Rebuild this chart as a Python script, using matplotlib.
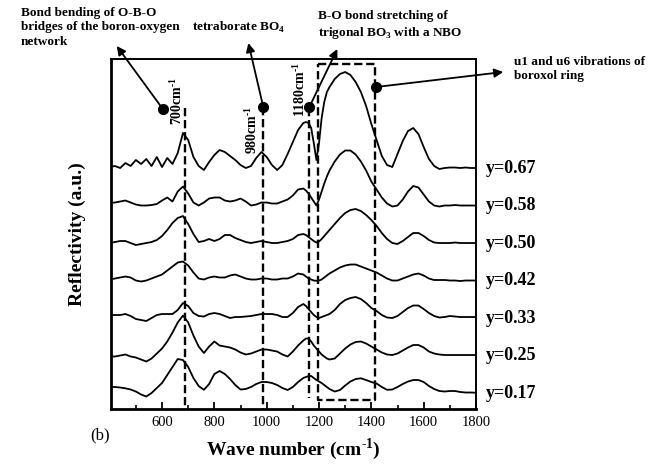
import matplotlib
matplotlib.use("Agg")

import matplotlib.pyplot as plt
import numpy as np

plt.rcParams['font.family'] = 'Liberation Serif'
plt.rcParams['mathtext.fontset'] = 'custom'
plt.rcParams['mathtext.rm'] = 'Liberation Serif:bold'
plt.rcParams['mathtext.bf'] = 'Liberation Serif:bold'

# wave number grid (cm-1), finer around the 1190 dip
wn = np.concatenate([np.arange(400, 1141, 20), np.arange(1150, 1231, 10),
                     np.arange(1240, 1801, 20)])

labels = ['y=0.17', 'y=0.25', 'y=0.33', 'y=0.42', 'y=0.50', 'y=0.58', 'y=0.67']

r_017 = [6, 6, 5.5, 4.7, 3.5, 1.5, -1.5, -3.5, 0, 5,
         10, 18, 26, 34, 33, 26, 15, 7, 3.2, 9,
         19, 22, 19, 14, 8, 3.5, 4, 6, 9, 11,
         11, 10, 8, 5, 3, 6, 11, 15,
         16, 17, 17, 15, 13, 11.5, 10, 8, 6,
         4, 1.5, 3, 7.5, 11.5, 14, 14.7, 13, 11, 9.5,
         6, 3.2, 3.5, 6, 9, 11.5, 13, 13, 11, 7,
         4, 2, 1.5, 2, 2, 1, 0.5, 0.5, 0.3]
r_025 = [-1, -1, 0, 1, -1, -2, -4, -6, -3, 2,
         7, 14, 23, 33, 40, 33, 20, 9, 2.5, 9,
         14, 10, 9, 8, 6, 3, 1, 2, 4, 6,
         6, 5, 4, 1, -1, 4, 10, 15,
         17, 17, 14, 10, 7, 4, 1, -1, -3,
         -4, -3, 2, 7, 11, 13.5, 14, 12, 9, 6,
         3, 1, 0.5, 2, 5, 8, 10.5, 10.5, 8, 4,
         2, 1, 0.5, 0.5, 0.5, 0.5, 0.5, 0.5, 0.5]
r_033 = [3, 3, 3, 4, 2, -1, -2, -3, 0, 3,
         4, 4, 4, 8, 15, 12, 5, 2, 1.5, 4,
         5, 4, 2, 0, 1, 1, 1.5, 2, 3, 4,
         4, 4, 3, 1, 1, 5, 11, 14,
         12, 9, 6, 3, 1, 0, 1, 2, 3,
         4, 8, 14, 18, 20, 21, 19, 15, 10, 7,
         3, 0.5, 0, 2, 6, 10, 12.5, 12.5, 9, 5,
         2, 0.5, 1, 2, 1.5, 1, 1, 1, 1]
r_042 = [1, 2, 3, 4, 3, 0, -1, 0, 2, 4,
         6, 10, 14, 18, 19, 15, 8, 2, 1, 3,
         4, 3, 3, 5, 6, 4, 2, 1, 1, 2,
         2, 1, 1, 2, 2, 4, 7, 6,
         4, 2, 1, 0, -0.3, 0, 1, 3, 5,
         7, 10, 13, 15, 16, 16, 14, 12, 10, 8,
         5, 2, 0, 0, 2, 4, 6, 7, 5, 2,
         0.5, 0.5, 0.5, 0, 0, -0.5, 0, 0, 0]
r_050 = [0, 1, 2, 2, 0, -2, -1, 0, 1, 3,
         7, 13, 20, 25, 27, 19, 9, 1, 2, 4,
         2, 4, 8, 8, 5, 3, 1, 0, 1, 2,
         1, 0, 0, 1, 2, 4, 8, 9,
         8, 6, 4, 2, 0.5, 1.5, 4, 7, 10,
         13, 19, 25, 30, 33, 34, 32, 28, 23, 17,
         10, 4, 0, -1, 2, 6, 10, 10, 7, 3,
         0.5, 0, 0, 0, 0.5, 0, 0, 0, 0]
r_058 = [2.5, 3, 4, 5, 3, 1, 0, 0, 0.5, 1.5,
         5, 8, 4, 14, 19, 12, 3, 0, 3, 7,
         8, 8, 5, 4, 5, 7, 4, 0, 1, 3,
         3, 2, 2, 4, 6, 10, 16, 17,
         15, 12, 8, 4, 0, 6, 14, 22, 29,
         35, 44, 51, 55, 55, 51, 44, 35, 24, 16,
         8, 2, -1, 0, 6, 14, 19.5, 18, 11, 4,
         0, -1, 0, 0, 0.5, 0, 0, 0, 0]
r_067 = [1, 2, 0, 5, 2, 8, 4, 9, 2, 11,
         1, 10, 4, 15, 35, 28, 11, 2, -2, 6,
         13, 18, 16, 12, 8, 3, 0, 2, 10, 16,
         11, 3, -2, 3, 14, 26, 38, 45,
         46, 45, 40, 25, 8, 25, 50, 66, 76,
         81, 89, 94, 96, 93, 86, 76, 62, 44, 28,
         12, 3, 1, 14, 27, 37, 40, 34, 21, 9,
         2, -1, 0, 0.5, 0.5, 0, 0.5, 0, 0]

spectra = [r_017, r_025, r_033, r_042, r_050, r_058, r_067]

fig = plt.figure(figsize=(6.48, 4.65), dpi=100)
ax = fig.add_axes([0.1713, 0.1204, 0.5633, 0.7527])

base, step = 16, 37.5
for i, (r, lab) in enumerate(zip(spectra, labels)):
    ax.plot(wn, base + i * step + np.array(r), color='black', lw=1.3,
            solid_joinstyle='round')
    ax.text(1838, base + i * step, lab, fontsize=13, fontweight='bold',
            ha='left', va='center', clip_on=False)

# dashed marker lines and box
dash = (0, (3.5, 1.6))
ax.plot([688, 688], [301, 0], color='black', lw=1.7, ls=dash)
ax.plot([985, 985], [302, 0], color='black', lw=1.7, ls=dash)
ax.plot([1162, 1162], [301, 11], color='black', lw=1.7, ls=dash)
ax.plot([1195, 1413, 1413, 1195, 1195], [345, 345, 9, 9, 345],
        color='black', lw=1.7, ls=dash)

sup = r'$^{\text{-1}}$'
ax.text(657, 308, '700cm' + sup, rotation=90, fontsize=10,
        fontweight='bold', ha='center', va='center')
ax.text(943, 279, '980cm' + sup, rotation=90, fontsize=10,
        fontweight='bold', ha='center', va='center')
ax.text(1127, 320, '1180cm' + sup, rotation=90, fontsize=10,
        fontweight='bold', ha='center', va='center')

# annotations: dot -> arrow -> text
notes = [
    ((603, 300), (427, 363), (60, 402),
     'Bond bending of O-B-O\nbridges of the boron-oxygen\nnetwork'),
    ((987, 302), (930, 366), (713, 382), r'tetraborate BO$_{\text{4}}$'),
    ((1163, 302), (1270, 360), (1197, 399),
     'B-O bond stretching of\n' + r'trigonal BO$_{\text{3}}$ with a NBO'),
    ((1418, 322), (1904, 337), (1945, 353), 'u1 and u6 vibrations of\nboroxol ring'),
]
for dot, head, txt, s in notes:
    ax.plot(*dot, 'o', color='black', ms=7, clip_on=False)
    ax.annotate('', xy=head, xytext=dot, annotation_clip=False,
                arrowprops=dict(arrowstyle='-|>', color='black', lw=1.3,
                                mutation_scale=13, shrinkA=0, shrinkB=0))
    va = 'center' if '\n' not in s else 'top'
    ax.text(txt[0], txt[1], s, fontsize=9.5, fontweight='bold', ha='left',
            va=va, clip_on=False, linespacing=1.25)

ax.set_xlim(405, 1800)
ax.set_ylim(0, 350)
ax.set_yticks([])
ax.set_xticks(np.arange(600, 1801, 200))
ax.set_xticks(np.arange(500, 1801, 100), minor=True)
ax.tick_params(axis='x', which='major', direction='in', length=5, width=1.3,
               labelsize=10.5, pad=5)
ax.tick_params(axis='x', which='minor', direction='in', length=3, width=1.2)
for side in ['top', 'right']:
    ax.spines[side].set_linewidth(1.4)
for side in ['left', 'bottom']:
    ax.spines[side].set_linewidth(2.0)

ax.set_xlabel('Wave number (cm' + sup + ')', fontsize=14,
              fontweight='bold', labelpad=5)
ax.set_ylabel('Reflectivity (a.u.)', fontsize=14, fontweight='bold', labelpad=18)
fig.text(100 / 648, 1 - 435 / 465, '(b)', fontsize=12, ha='center', va='center')

plt.savefig('out.png', dpi=100)
